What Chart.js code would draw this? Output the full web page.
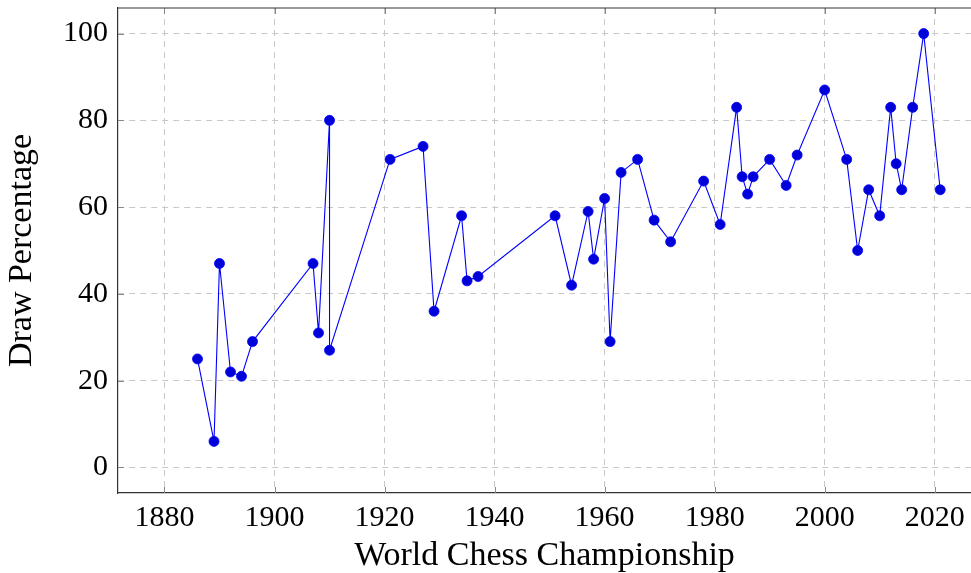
<!DOCTYPE html>
<html>
<head>
<meta charset="utf-8">
<script src="https://cdn.jsdelivr.net/npm/chart.js@4/dist/chart.umd.min.js"></script>
<style>
  html, body { margin: 0; padding: 0; background: #fff; overflow: hidden; }
  #wrap { width: 971px; height: 573px; }
</style>
</head>
<body>
<div id="wrap"><canvas id="drawChart" width="971" height="573"></canvas></div>
<script>
// Years of each World Chess Championship match
const years = [1886, 1889, 1890, 1892, 1894, 1896, 1907, 1908, 1910, 1910, 1921, 1927, 1929, 1934, 1935, 1937,
    1951, 1954, 1957, 1958, 1960, 1961, 1963, 1966, 1969, 1972, 1978, 1981, 1984, 1985, 1986, 1987, 1990,
    1993, 1995, 2000, 2004, 2006, 2008, 2010, 2012, 2013, 2014, 2016, 2018, 2021];
// Draw percentage of each match
const drawPct = [25, 6, 47, 22, 21, 29, 47, 31, 80, 27, 71, 74, 36, 58, 43, 44,
    58, 42, 59, 48, 62, 29, 68, 71, 57, 52, 66, 56, 83, 67, 63, 67, 71,
    65, 72, 87, 71, 50, 64, 58, 83, 70, 64, 83, 100, 64];
const xTicks = [1880, 1900, 1920, 1940, 1960, 1980, 2000, 2020];
const yTicks = [0, 20, 40, 60, 80, 100];

const serif = "'Liberation Serif', 'DejaVu Serif', serif";
const tickColor = '#888';
const tickLen = 6;

// pgfplots-style inner tick marks and top frame line
const innerTicks = {
    id: 'innerTicks',
    afterDraw(chart) {
        const { ctx, chartArea } = chart;
        const xs = chart.scales.x, ys = chart.scales.y;
        ctx.save();
        ctx.strokeStyle = tickColor;
        ctx.lineWidth = 1;
        ctx.beginPath();
        xTicks.forEach(v => {
            const px = Math.round(xs.getPixelForValue(v)) + 0.5;
            ctx.moveTo(px, chartArea.bottom);
            ctx.lineTo(px, chartArea.bottom - tickLen);
            ctx.moveTo(px, chartArea.top);
            ctx.lineTo(px, chartArea.top + tickLen);
        });
        yTicks.forEach(v => {
            const py = Math.round(ys.getPixelForValue(v)) + 0.5;
            ctx.moveTo(chartArea.left, py);
            ctx.lineTo(chartArea.left + tickLen, py);
        });
        ctx.stroke();
        ctx.strokeStyle = '#333';
        ctx.lineWidth = 1.2;
        ctx.beginPath();
        ctx.moveTo(chartArea.left, chartArea.top);
        ctx.lineTo(chartArea.right, chartArea.top);
        ctx.stroke();
        ctx.restore();
    }
};

const ctx = document.getElementById('drawChart').getContext('2d');
const drawChart = new Chart(ctx, {
    type: 'line',
    data: {
        datasets: [{
            data: years.map((y, i) => ({ x: y, y: drawPct[i] })),
            borderColor: '#0000ff',
            borderWidth: 1.1,
            backgroundColor: '#0000d8',
            pointBackgroundColor: '#0000d8',
            pointBorderColor: '#0000ff',
            pointBorderWidth: 0.8,
            pointRadius: 5,
            tension: 0,
            fill: false
        }]
    },
    options: {
        responsive: false,
        animation: false,
        layout: { autoPadding: false, padding: { top: 8, right: 0, left: 0, bottom: 0 } },
        plugins: {
            legend: { display: false },
            tooltip: { enabled: false }
        },
        scales: {
            x: {
                type: 'linear',
                min: 1871.55,
                max: 2026.6,
                afterFit(scale) {
                    scale.height = 80;
                    scale.paddingLeft = 0;
                    scale.paddingRight = 0;
                },
                afterBuildTicks(scale) { scale.ticks = xTicks.map(v => ({ value: v })); },
                grid: { color: '#c8c8c8', lineWidth: 1, drawTicks: false },
                border: { display: true, color: '#333', width: 1.2, dash: [6, 5] },
                ticks: {
                    padding: 7,
                    color: '#000',
                    font: { family: serif, size: 30 },
                    callback: v => String(v)
                },
                title: {
                    display: true,
                    text: 'World Chess Championship',
                    color: '#000',
                    font: { family: serif, size: 34, lineHeight: 1 },
                    padding: { top: 0, bottom: 0 }
                }
            },
            y: {
                type: 'linear',
                min: -5.9,
                max: 105.9,
                afterFit(scale) {
                    scale.width = 118;
                    scale.paddingTop = 0;
                    scale.paddingBottom = 0;
                },
                afterBuildTicks(scale) { scale.ticks = yTicks.map(v => ({ value: v })); },
                grid: { color: '#c8c8c8', lineWidth: 1, drawTicks: false },
                border: { display: true, color: '#333', width: 1.2, dash: [6, 5] },
                ticks: {
                    padding: 10,
                    color: '#000',
                    font: { family: serif, size: 30 },
                    callback: v => String(v)
                },
                title: {
                    display: true,
                    text: 'Draw Percentage',
                    color: '#000',
                    font: { family: serif, size: 34, lineHeight: 1 },
                    padding: { top: 5, bottom: 0 }
                }
            }
        }
    },
    plugins: [innerTicks]
});
</script>
</body>
</html>
